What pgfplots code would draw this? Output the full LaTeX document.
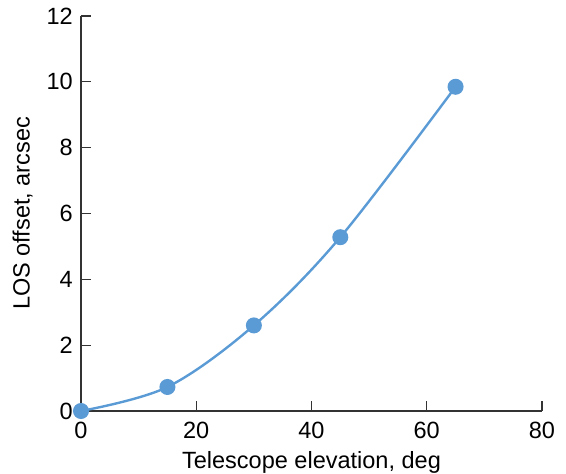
\documentclass[border=0pt]{standalone}
\usepackage{fontspec}
\setmainfont{Liberation Sans}
\usepackage{pgfplots}
\pgfplotsset{compat=1.18}
\definecolor{LineBlue}{HTML}{5B9BD5}
\definecolor{AxisGray}{HTML}{333333}
\begin{document}
\fontsize{11.8}{14}\selectfont
\begin{tikzpicture}
\begin{axis}[
  scale only axis,
  width=230.5bp,
  height=197.5bp,
  xmin=0, xmax=80,
  ymin=0, ymax=12,
  xtick={0,20,...,80},
  ytick={0,2,...,12},
  axis x line*=bottom,
  axis y line*=left,
  axis line style={draw=AxisGray, line width=0.6bp, -},
  tick style={draw=AxisGray, line width=0.6bp},
  tick align=inside,
  major tick length=5bp,
  /pgf/number format/assume math mode=true,
  tick label style={font=\fontsize{11.8}{14}\selectfont},
  xticklabel style={yshift=-1.5bp},
  label style={font=\fontsize{11.8}{14}\selectfont},
  xlabel={Telescope elevation, deg},
  xlabel style={yshift=1.5bp},
  ylabel={LOS offset, arcsec},
  ylabel style={yshift=-1bp},
  clip=false
]
\addplot[color=LineBlue, line width=1.2bp, smooth, tension=0.55,
  mark=*, mark size=3.4bp, mark options={fill=LineBlue, draw=LineBlue}]
  coordinates {(0,0) (15,0.73) (30,2.6) (45,5.28) (65,9.85)};
\end{axis}
\pgfresetboundingbox
\path[use as bounding box] (-40.5bp,-31.5bp) rectangle (242.5bp,205.5bp);
\end{tikzpicture}
\end{document}
